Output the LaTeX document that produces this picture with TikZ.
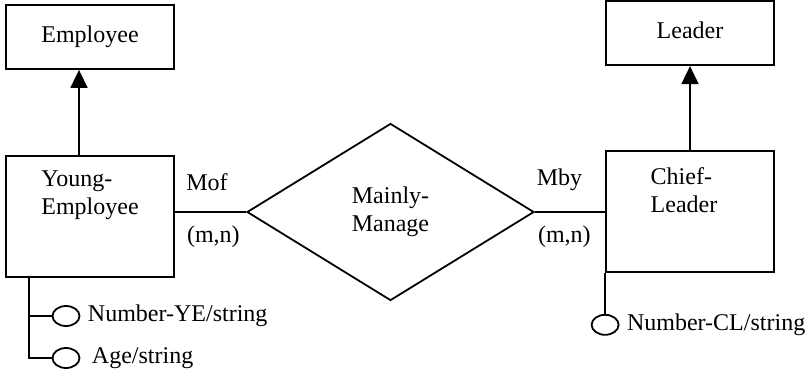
\documentclass[tikz,border=0pt]{standalone}
\usepackage{fontspec}
\setmainfont{Liberation Serif}
\usetikzlibrary{arrows.meta, positioning, shapes.geometric}

\begin{document}
\begin{tikzpicture}[
    x=0.5pt, y=-0.5pt, line width=0.9pt,
    font=\fontsize{12}{14}\selectfont,
    entity/.style={rectangle, draw, minimum width=84pt, minimum height=32pt,
        text height=0.7em, text depth=0.2em},
    subentity/.style={entity, minimum height=60.5pt},
    innertext/.style={anchor=north, align=left, yshift=-4pt},
    relation/.style={diamond, draw, minimum width=143.5pt, minimum height=88.5pt,
        inner sep=0pt, align=left},
    attr/.style={ellipse, draw, minimum width=13.5pt, minimum height=10pt, inner sep=0pt},
    isa/.style={-{Triangle[length=9pt, width=8.5pt]}}
]
\useasboundingbox (0,0) rectangle (807,371);

\node[entity] (emp) at (90,37) {Employee};
\node[subentity, below=42.5pt of emp,
      label={[innertext]north:Young-\\Employee}] (young) {};
\node[relation] (rel) at (390.5,212) {Mainly-\\Manage};
\node[subentity, label={[innertext, xshift=-3pt, yshift=-1pt]north:Chief-\\Leader}] (chief) at (690,211.5) {};
\node[entity, above=42pt of chief] (leader) {Leader};

% generalisation
\draw[isa] ([xshift=-5.5pt]young.north) -- ([xshift=-5.5pt]emp.south);
\draw[isa] (chief.north) -- (leader.south);

% relationship
\draw (young.east |- rel.west) -- node[above=7pt, pos=0.45]{Mof}
      node[below=3pt, pos=0.54]{(m,n)} (rel.west);
\draw (rel.east) -- node[above=7pt, pos=0.35]{Mby}
      node[below=3pt, pos=0.42]{(m,n)} (rel.east -| chief.west);

% attributes
\node[attr, label={right:Number-YE/string}] (numye) at (66,316) {};
\node[attr, label={[label distance=2pt]right:Age/string}] (age) at (66,358) {};
\node[attr, below=20.5pt of chief.south west, label={right:Number-CL/string}] (numcl) {};
\coordinate (yroot) at ([xshift=12pt]young.south west);
\draw (yroot) |- (numye.west);
\draw (yroot) |- (age.west);
\draw (chief.south west) -- (numcl.north);
\end{tikzpicture}
\end{document}
